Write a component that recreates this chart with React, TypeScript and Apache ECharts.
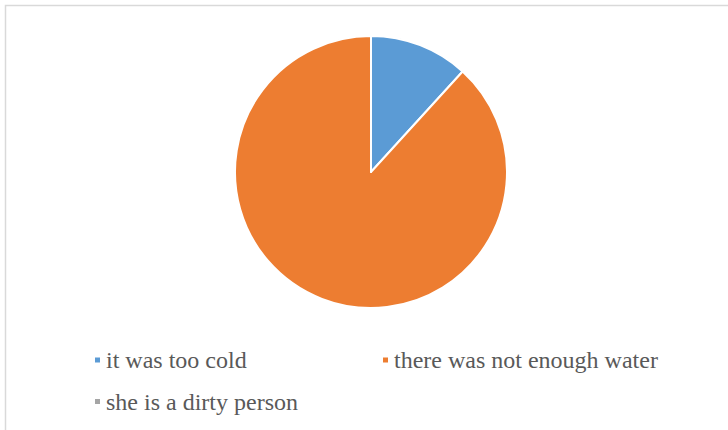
import React, { useEffect, useRef } from "react";
import * as echarts from "echarts";

const categories = ["it was too cold", "there was not enough water", "she is a dirty person"];
const values = [2, 15, 0];
const colors = ["#5B9BD5", "#ED7D31", "#A5A5A5"];

const FONT = "Liberation Serif, Times New Roman, serif";

export default function App() {
  const ref = useRef<HTMLDivElement>(null);
  useEffect(() => {
    document.body.style.margin = "0";
    const chart = echarts.init(ref.current!, undefined, { renderer: "svg" });
    const textStyle = {
      color: "#595959",
      fontFamily: FONT,
      fontSize: 24,
      lineHeight: 24,
    };
    const legendBase = {
      orient: "horizontal" as const,
      itemWidth: 7,
      itemHeight: 7,
      itemGap: 8,
      icon: "rect",
      textStyle,
      padding: 0,
      selectedMode: false,
    };
    chart.setOption({
      animation: false,
      backgroundColor: "#ffffff",
      textStyle: { fontFamily: FONT },
      color: colors,
      graphic: [
        {
          type: "rect",
          shape: { x: 5.5, y: 5.5, width: 800, height: 500 },
          style: { fill: "none", stroke: "#d9d9d9", lineWidth: 1.5 },
          silent: true,
        },
      ],
      legend: [
        { ...legendBase, data: [categories[0]], left: 93, top: 348 },
        { ...legendBase, data: [categories[1]], left: 381, top: 348 },
        { ...legendBase, data: [categories[2]], left: 93, top: 389.5 },
      ],
      series: [
        {
          type: "pie",
          center: [371, 172],
          radius: [0, 136],
          startAngle: 90,
          clockwise: true,
          label: { show: false },
          labelLine: { show: false },
          emphasis: { disabled: true },
          itemStyle: { borderColor: "#ffffff", borderWidth: 2 },
          data: categories.map((name, i) => ({ name, value: values[i] })),
        },
      ],
    });
    return () => chart.dispose();
  }, []);
  return <div ref={ref} style={{ width: 728, height: 430 }} />;
}
